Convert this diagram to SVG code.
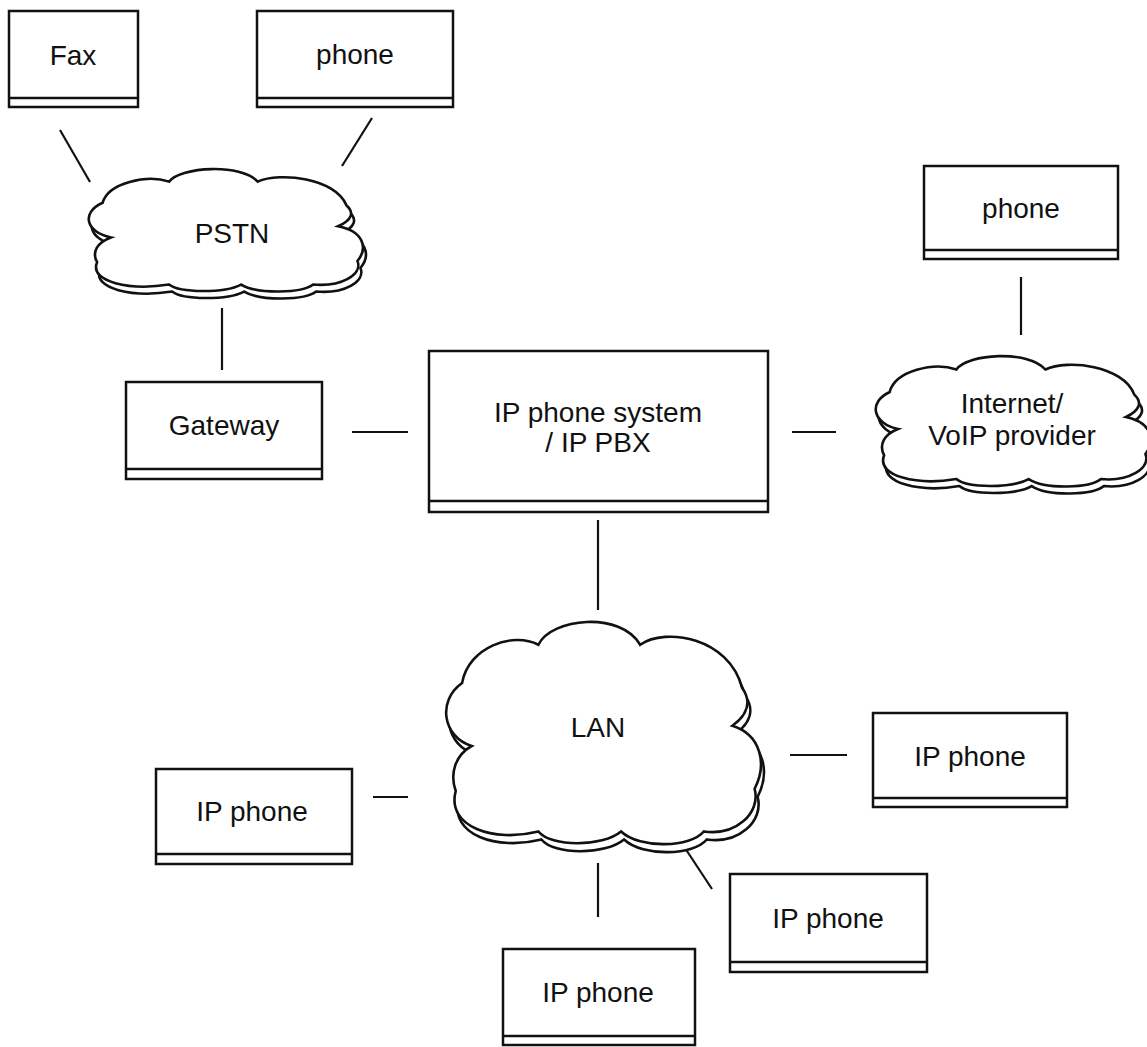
<svg xmlns="http://www.w3.org/2000/svg" xmlns:xlink="http://www.w3.org/1999/xlink" width="1147" height="1047" viewBox="0 0 1147 1047">
<style>
.box{fill:#fff;stroke:#111;stroke-width:2.5}
.band{fill:none;stroke:#111;stroke-width:2.5}
.lbl{font-family:"Liberation Sans",Arial,Helvetica,sans-serif;font-size:28px;fill:#111;text-anchor:middle}
.conn line{stroke:#111;stroke-width:2.2}
.cl{fill:#fff;stroke:#111;stroke-width:2.6}
</style>
<defs>
<path id="cloud" vector-effect="non-scaling-stroke" d="M 9,56 C 0,52 -2,36 6,28 C 8,12 22,5 30,11 C 34,-1 56,-4 62,11 C 70,3 90,8 94,30 C 97,36 96,42 91,47 C 100,51 102,64 98,75 C 100,86 92,96 82,94 C 78,101 62,102 56,94 C 50,101 34,101 30,94 C 16,99 1,92 4,76 C 2,68 4,60 9,56 Z"/>
</defs>
<rect width="1147" height="1047" fill="#fff"/>
<g id="connectors" class="conn">
<line x1="60" y1="130" x2="90" y2="182"/>
<line x1="372" y1="118" x2="342" y2="166"/>
<line x1="222" y1="308" x2="222" y2="370"/>
<line x1="352" y1="432" x2="408" y2="432"/>
<line x1="792" y1="432" x2="836" y2="432"/>
<line x1="1021" y1="277" x2="1021" y2="335"/>
<line x1="598" y1="520" x2="598" y2="610"/>
<line x1="373" y1="797" x2="408" y2="797"/>
<line x1="790" y1="755" x2="847" y2="755"/>
<line x1="683" y1="845" x2="712" y2="889"/>
<line x1="598" y1="863" x2="598" y2="917"/>
</g>
<g id="fax">
<rect class="box" x="9" y="11" width="129" height="96"/>
<line class="band" x1="9" y1="98" x2="138" y2="98"/>
<text class="lbl" x="73" y="65">Fax</text>
</g>
<g id="phone1">
<rect class="box" x="257" y="11" width="196" height="96"/>
<line class="band" x1="257" y1="98" x2="453" y2="98"/>
<text class="lbl" x="355" y="64">phone</text>
</g>
<g id="pstn">
<use class="cl" xlink:href="#cloud" transform="translate(89,175) scale(2.77,1.24)"/>
<use class="cl" xlink:href="#cloud" transform="translate(86,168) scale(2.77,1.24)"/>
<text class="lbl" x="232" y="243">PSTN</text>
</g>
<g id="gateway">
<rect class="box" x="126" y="382" width="196" height="97"/>
<line class="band" x1="126" y1="469" x2="322" y2="469"/>
<text class="lbl" x="224" y="435">Gateway</text>
</g>
<g id="pbx">
<rect class="box" x="429" y="351" width="339" height="161"/>
<line class="band" x1="429" y1="501" x2="768" y2="501"/>
<text class="lbl" x="598" y="422">IP phone system</text>
<text class="lbl" x="598" y="452">/ IP PBX</text>
</g>
<g id="phone2">
<rect class="box" x="924" y="166" width="194" height="93"/>
<line class="band" x1="924" y1="250" x2="1118" y2="250"/>
<text class="lbl" x="1021" y="218">phone</text>
</g>
<g id="internet">
<use class="cl" xlink:href="#cloud" transform="translate(876,362) scale(2.78,1.32)"/>
<use class="cl" xlink:href="#cloud" transform="translate(873,355) scale(2.78,1.32)"/>
<text class="lbl" x="1012" y="413">Internet/</text>
<text class="lbl" x="1012" y="445">VoIP provider</text>
</g>
<g id="lan">
<use class="cl" xlink:href="#cloud" transform="translate(446,628) scale(3.18,2.25)"/>
<use class="cl" xlink:href="#cloud" transform="translate(443,620) scale(3.18,2.25)"/>
<text class="lbl" x="598" y="737">LAN</text>
</g>
<g id="ipphone-left">
<rect class="box" x="156" y="769" width="196" height="95"/>
<line class="band" x1="156" y1="854" x2="352" y2="854"/>
<text class="lbl" x="252" y="821">IP phone</text>
</g>
<g id="ipphone-right">
<rect class="box" x="873" y="713" width="194" height="94"/>
<line class="band" x1="873" y1="798" x2="1067" y2="798"/>
<text class="lbl" x="970" y="766">IP phone</text>
</g>
<g id="ipphone-midright">
<rect class="box" x="730" y="874" width="197" height="98"/>
<line class="band" x1="730" y1="962" x2="927" y2="962"/>
<text class="lbl" x="828" y="928">IP phone</text>
</g>
<g id="ipphone-bottom">
<rect class="box" x="503" y="949" width="192" height="96"/>
<line class="band" x1="503" y1="1036" x2="695" y2="1036"/>
<text class="lbl" x="598" y="1002">IP phone</text>
</g>
</svg>
